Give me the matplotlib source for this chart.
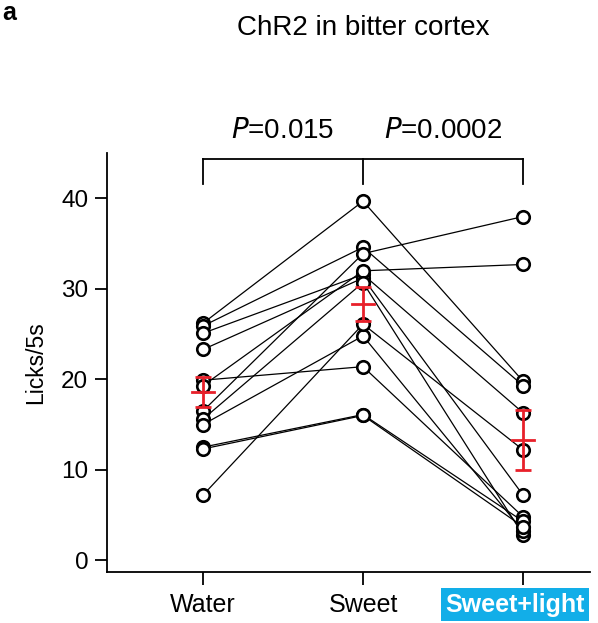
import numpy as np
import matplotlib
matplotlib.use("Agg")
from matplotlib import pyplot as plt
from matplotlib import transforms

plt.rcParams["font.family"] = ["Liberation Sans", "DejaVu Sans"]

# ---------------------------
# Data
# ---------------------------

conditions = ["Water", "Sweet", "Sweet+light"]

water = [26.2, 25.9, 25.1, 23.3, 19.9, 19.3, 16.5, 15.6, 15.0, 12.5, 12.3, 7.2]
sweet = [39.7, 34.6, 31.6, 31.2, 21.4, 32.0, 33.9, 30.7, 24.8, 16.1, 16.0, 26.1]
sweet_light = [19.8, 19.3, 16.3, 7.2, 4.8, 32.7, 38.0, 2.8, 3.2, 4.3, 3.7, 12.2]

means = [18.6, 28.3, 13.3]
sems = [1.7, 1.9, 3.3]

p_values = ["0.015", "0.0002"]

# ---------------------------
# Figure
# ---------------------------

fig = plt.figure(figsize=(5.98, 6.23), dpi=100)
ax = fig.add_axes([0.179, 0.082, 0.808, 0.672])

x = np.arange(len(conditions))
subjects = np.array([water, sweet, sweet_light]).T

for row in subjects:
    ax.plot(x, row, color="black", lw=0.9, zorder=2)
    ax.plot(x, row, "o", mfc="white", mec="black", ms=9, mew=1.9,
            zorder=3, ls="none")

ax.errorbar(x, means, yerr=sems, fmt="none", ecolor="#e8202a",
            elinewidth=2, capsize=6, capthick=2, zorder=5)
for xi, m in zip(x, means):
    ax.plot([xi - 0.07, xi + 0.07], [m, m], color="#e8202a", lw=2, zorder=5)

ax.set_xlim(-0.6, 2.42)
ax.set_ylim(-1.3, 45)
ax.set_yticks([0, 10, 20, 30, 40])
ax.set_xticks(x)
ax.set_xticklabels(conditions)
ax.set_ylabel("Licks/5s", fontsize=16.5, labelpad=10)

for side in ["top", "right"]:
    ax.spines[side].set_visible(False)
for side in ["left", "bottom"]:
    ax.spines[side].set_linewidth(1.3)

ax.tick_params(axis="y", labelsize=17.5, length=8.5, width=1.3, pad=5)
ax.tick_params(axis="x", labelsize=18, length=9, width=1.3, pad=6)

# highlighted last label, nudged a little left like the original
lab = ax.get_xticklabels()[2]
lab.set_color("white")
lab.set_fontweight("bold")
lab.set_bbox(dict(facecolor="#12aee8", edgecolor="none", pad=3.5))
shift = transforms.ScaledTranslation(-8 / 100, 0, fig.dpi_scale_trans)
lab.set_transform(lab.get_transform() + shift)

# significance bracket
by, leg = 44.4, 41.6
ax.plot([0, 2], [by, by], color="black", lw=1.3, clip_on=False)
for xi in x:
    ax.plot([xi, xi], [leg, by], color="black", lw=1.3, clip_on=False)

for i, p in enumerate(p_values):
    ax.text(i + 0.5, 46.0, r"$\it{P}$=" + p, ha="center", va="bottom",
            fontsize=20)

fig.text(0.607, 0.955, "ChR2 in bitter cortex", ha="center", va="center",
         fontsize=20)
fig.text(0.003, 0.998, "a", ha="left", va="top", fontsize=18,
         fontweight="bold")

plt.savefig("out.png", dpi=100)
